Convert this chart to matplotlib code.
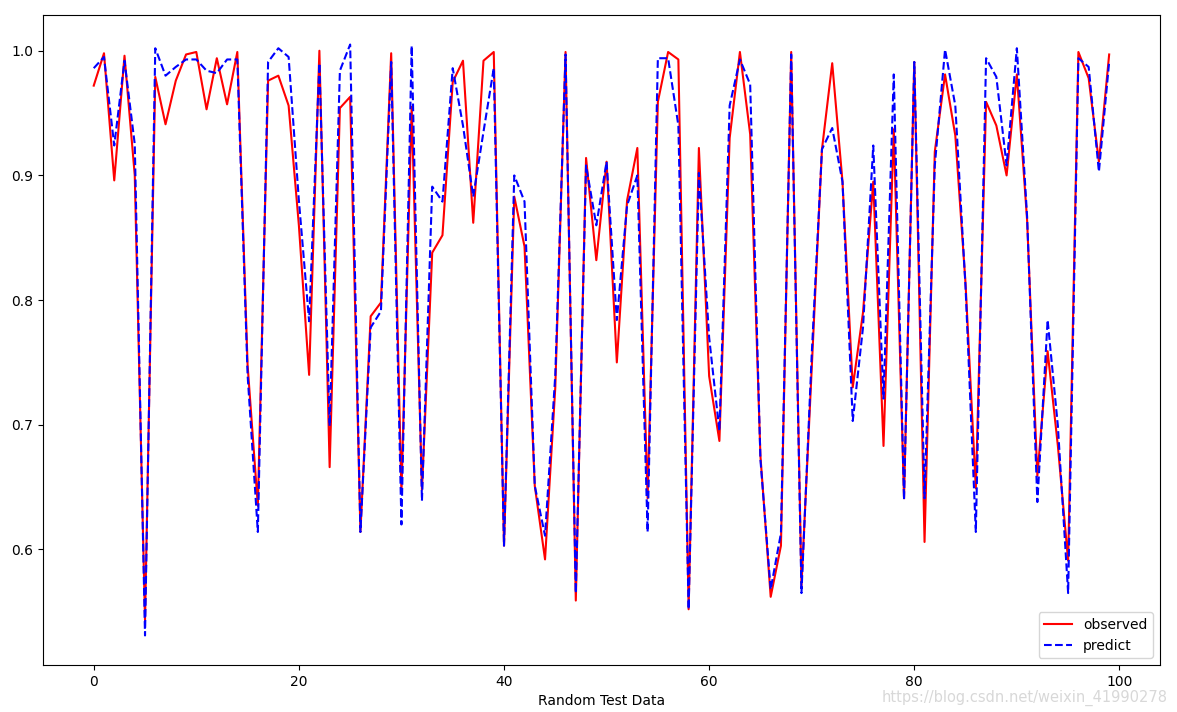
import numpy as np
import matplotlib
matplotlib.use('Agg')
import matplotlib.pyplot as plt

# values
observed = [0.972, 0.998, 0.896, 0.996, 0.900, 0.543, 0.979, 0.941, 0.976, 0.997,
            0.999, 0.953, 0.994, 0.957, 0.999, 0.748, 0.635, 0.976, 0.980, 0.956,
            0.860, 0.740, 1.000, 0.666, 0.954, 0.963, 0.614, 0.787, 0.798, 0.998,
            0.645, 0.955, 0.648, 0.838, 0.852, 0.975, 0.992, 0.862, 0.992, 0.999,
            0.603, 0.883, 0.843, 0.651, 0.592, 0.730, 0.999, 0.559, 0.914, 0.832,
            0.911, 0.750, 0.880, 0.922, 0.641, 0.959, 0.999, 0.993, 0.552, 0.922,
            0.739, 0.687, 0.930, 0.999, 0.933, 0.675, 0.562, 0.603, 0.999, 0.571,
            0.745, 0.921, 0.990, 0.895, 0.730, 0.790, 0.895, 0.683, 0.937, 0.641,
            0.991, 0.606, 0.919, 0.981, 0.932, 0.813, 0.649, 0.959, 0.940, 0.900,
            0.981, 0.864, 0.659, 0.759, 0.683, 0.591, 0.999, 0.978, 0.911, 0.997]

predict = [0.986, 0.995, 0.924, 0.992, 0.925, 0.531, 1.002, 0.980, 0.987, 0.993,
           0.993, 0.984, 0.982, 0.993, 0.993, 0.740, 0.614, 0.991, 1.002, 0.995,
           0.880, 0.783, 0.990, 0.699, 0.984, 1.005, 0.614, 0.778, 0.791, 0.991,
           0.620, 1.004, 0.639, 0.891, 0.879, 0.986, 0.940, 0.883, 0.935, 0.986,
           0.603, 0.900, 0.879, 0.651, 0.611, 0.740, 0.997, 0.565, 0.908, 0.860,
           0.911, 0.784, 0.876, 0.900, 0.614, 0.994, 0.994, 0.940, 0.552, 0.902,
           0.770, 0.695, 0.956, 0.993, 0.973, 0.672, 0.568, 0.613, 0.997, 0.565,
           0.756, 0.921, 0.938, 0.895, 0.703, 0.778, 0.924, 0.721, 0.981, 0.640,
           0.991, 0.641, 0.908, 1.001, 0.956, 0.810, 0.614, 0.994, 0.979, 0.908,
           1.002, 0.867, 0.638, 0.784, 0.699, 0.565, 0.994, 0.987, 0.903, 0.991]

x = np.arange(len(observed))

fig = plt.figure(figsize=(11.77, 7.12), dpi=100)
ax = fig.add_axes([0.0365, 0.066, 0.949, 0.913])

ax.plot(x, observed, 'r-', label='observed')
ax.plot(x, predict, 'b--', label='predict')

ax.set_xlabel('Random Test Data')
ax.legend(loc='lower right')

# csdn watermark from the screenshot
fig.text(0.992, 0.008, 'https://blog.csdn.net/weixin_41990278', ha='right',
         va='bottom', fontsize=10.5, color='#d8d8d8')

fig.savefig('out.png', dpi=100)
